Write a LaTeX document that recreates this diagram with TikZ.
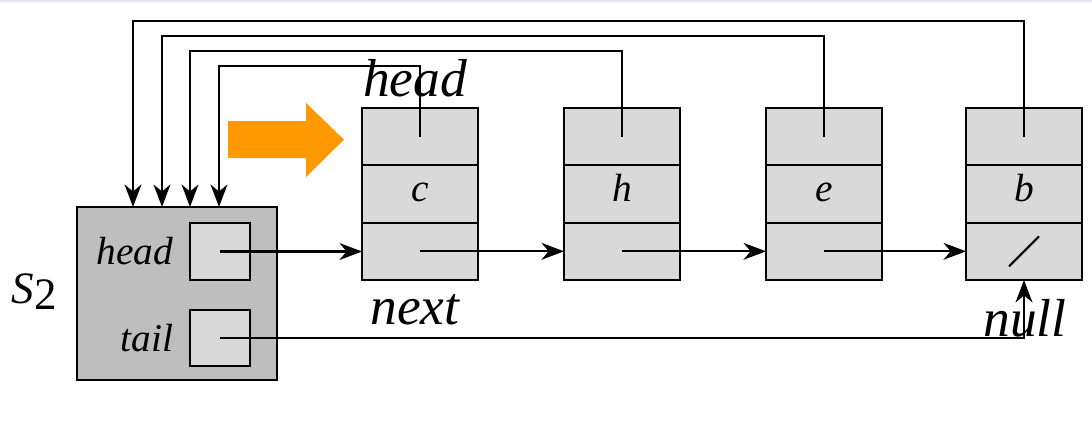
\documentclass[tikz,border=0pt]{standalone}
\usepackage{fontspec}
\setmainfont{Liberation Serif}
\usetikzlibrary{positioning}
\usetikzlibrary{arrows.meta}
\definecolor{CELL}{RGB}{217,217,217}
\definecolor{LISTBOX}{RGB}{190,190,190}
\definecolor{ORANGE}{RGB}{255,153,0}
\definecolor{EDGE}{RGB}{228,228,245}
\tikzset{
	every node/.style = {font=\itshape},
	cell/.style = {draw, fill=CELL, line width=1.5pt, minimum width=2.9cm, minimum height=1.433cm, inner sep=0pt, outer sep=0pt},
	ptr/.style = {line width=1.5pt, -{Stealth[length=16pt, width=12pt, inset=5pt]}},
	big/.style = {font=\fontsize{38}{40}\selectfont\itshape},
	small/.style = {font=\fontsize{28}{30}\selectfont\itshape}
}
\begin{document}
\begin{tikzpicture}
	\useasboundingbox (0,0) rectangle (27.3,-10.525);
	\draw[EDGE, line width=1.5pt] (0,-0.02) -- (27.3,-0.02);
	% list s2
	\node[draw, fill=LISTBOX, line width=1.5pt, minimum width=5cm, minimum height=4.325cm, inner sep=0pt] (s2) at (4.425,-7.3375) {};
	\node[cell, minimum width=1.5cm, minimum height=1.425cm] (headbox) at (5.5,-6.2875) {};
	\node[cell, minimum width=1.5cm, minimum height=1.4cm] (tailbox) at (5.5,-8.45) {};
	\node[small, left=0.3cm of headbox] (headtxt) {head};
	\node[small, left=0.3cm of tailbox] (tailtxt) {tail};
	\node[font=\fontsize{32}{34}\selectfont] (s2txt) at (0.85,-7.3) {\textit{S}\raisebox{-0.3ex}{2}};
	% the nodes of the list
	\foreach \v/\x in {c/10.5, h/15.55, e/20.6, b/25.6} {
		\node[cell] (top-\v) at (\x,-3.4165) {};
		\node[cell, small, text height=1.03em, text depth=0pt, below=0pt of top-\v] (val-\v) {\v};
		\node[cell, below=0pt of val-\v] (nxt-\v) {};
	}
	% labels
	\node[big] (headlbl) at (10.375,-1.95) {head};
	\node[big] (nextlbl) at (10.375,-7.75) {next};
	\node[big] (nulllbl) at (25.625,-7.95) {null};
	% move arrow
	\fill[ORANGE] (5.7,-3.025) -- (7.65,-3.025) -- (7.65,-2.575) -- (8.6,-3.49)
		-- (7.65,-4.425) -- (7.65,-3.95) -- (5.7,-3.95) -- cycle;
	% pointers back into s2
	\coordinate (lvl1) at (0,-0.525);
	\coordinate (lvl2) at (0,-0.9);
	\coordinate (lvl3) at (0,-1.275);
	\coordinate (lvl4) at (0,-1.65);
	\coordinate (in1) at (3.325,-5.175);
	\coordinate (in2) at (4.05,-5.175);
	\coordinate (in3) at (4.75,-5.175);
	\coordinate (in4) at (5.475,-5.175);
	\draw[ptr] (top-b.center) -- (top-b.center |- lvl1) -| (in1);
	\draw[ptr] (top-e.center) -- (top-e.center |- lvl2) -| (in2);
	\draw[ptr] (top-h.center) -- (top-h.center |- lvl3) -| (in3);
	\draw[ptr] (top-c.center) -- (top-c.center |- lvl4) -| (in4);
	% next pointers
	\draw[ptr] (headbox.center) -- (headbox.center -| nxt-c.west);
	\draw[ptr] (nxt-c.center) -- (nxt-h.west);
	\draw[ptr] (nxt-h.center) -- (nxt-e.west);
	\draw[ptr] (nxt-e.center) -- (nxt-b.west);
	% null
	\draw[line width=1.5pt] (nxt-b.center) ++(-0.375,-0.375) -- ++(0.75,0.75);
	% tail
	\draw[ptr] (tailbox.center) -| (nxt-b.south);
\end{tikzpicture}
\end{document}
